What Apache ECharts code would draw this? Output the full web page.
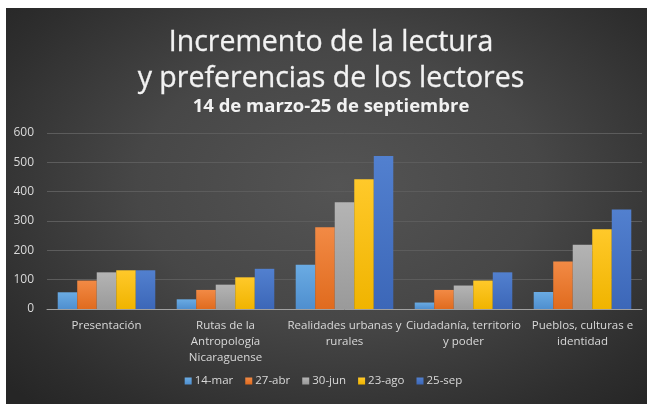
<!DOCTYPE html>
<html>
<head>
<meta charset="utf-8">
<script src="https://cdn.jsdelivr.net/npm/echarts@6/dist/echarts.min.js"></script>
<style>
  html, body { margin: 0; padding: 0; background: #ffffff; }
  #wrap { position: relative; width: 647px; height: 404px; overflow: hidden; }
  #bg { position: absolute; left: 6px; top: 8px; width: 641px; height: 396px;
        background: radial-gradient(ellipse 70% 75% at 52% 45%, #545454 0%, #474747 45%, #2e2e2e 85%, #262626 100%); }
  #chart { position: absolute; left: 0; top: 0; width: 647px; height: 404px; }
</style>
</head>
<body>
<div id="wrap"><div id="bg"></div><div id="chart"></div></div>
<script>
const categories = ["Presentación", "Rutas de la Antropología Nicaraguense", "Realidades urbanas y rurales", "Ciudadanía, territorio y poder", "Pueblos, culturas e identidad"];
const xTickLabels = ["Presentación", "Rutas de la\nAntropología\nNicaraguense", "Realidades urbanas y\nrurales", "Ciudadanía, territorio\ny poder", "Pueblos, culturas e\nidentidad"];
const seriesNames = ["14-mar", "27-abr", "30-jun", "23-ago", "25-sep"];
const v14mar = [57, 33, 151, 22, 58];
const v27abr = [97, 65, 279, 65, 162];
const v30jun = [125, 83, 364, 80, 219];
const v23ago = [132, 108, 442, 97, 272];
const v25sep = [132, 137, 522, 125, 339];
const yTicks = [0, 100, 200, 300, 400, 500, 600];
const titleText = "Incremento de la lectura\ny preferencias de los lectores";
const subtitleText = "14 de marzo-25 de septiembre";

const seriesValues = [v14mar, v27abr, v30jun, v23ago, v25sep];
const colorsTop = ["#6aabe3", "#f28a45", "#b4b4b4", "#ffc92a", "#5280cf"];
const colorsBot = ["#4f8fcf", "#e06b1e", "#9a9a9a", "#f0b400", "#3c67b8"];

const chart = echarts.init(document.getElementById('chart'), null, {renderer: 'canvas'});
const FONT = "'Open Sans', 'Noto Sans', sans-serif";
chart.setOption({
  backgroundColor: 'transparent',
  animation: false,
  title: [
    { text: titleText, left: 326, textAlign: 'center', top: 20,
      textStyle: { color: '#f2f2f2', fontSize: 28.5, fontWeight: 500, fontFamily: FONT, lineHeight: 36,
        textBorderColor: '#f2f2f2', textBorderWidth: 0.3 } },
    { text: subtitleText, left: 326, textAlign: 'center', top: 91,
      textStyle: { color: '#f2f2f2', fontSize: 18.5, fontWeight: 'bold', fontFamily: FONT, lineHeight: 22 } }
  ],
  grid: { left: 47, right: 5, top: 133, bottom: 95, containLabel: false },
  legend: {
    data: seriesNames, bottom: 12, left: 'center',
    icon: 'rect', itemWidth: 7, itemHeight: 7, itemGap: 12,
    textStyle: { color: '#d9d9d9', fontSize: 11.5, fontFamily: FONT, padding: [0, 0, 0, -2] }
  },
  xAxis: {
    type: 'category', data: categories,
    axisLine: { lineStyle: { color: '#a0a0a0', width: 1 } },
    axisTick: { show: false },
    axisLabel: { color: '#d9d9d9', fontSize: 11.5, fontFamily: FONT, lineHeight: 16, margin: 9,
      interval: 0, formatter: (v, i) => xTickLabels[i] }
  },
  yAxis: {
    type: 'value', min: yTicks[0], max: yTicks[yTicks.length - 1], interval: yTicks[1] - yTicks[0],
    axisLine: { show: false }, axisTick: { show: false },
    axisLabel: { color: '#d9d9d9', fontSize: 12, fontFamily: FONT, margin: 13 },
    splitLine: { lineStyle: { color: '#5c5c5c', width: 1 } }
  },
  series: seriesNames.map((name, i) => ({
    name: name, type: 'bar', data: seriesValues[i],
    barGap: '0%', barCategoryGap: '18%',
    itemStyle: {
      color: new echarts.graphic.LinearGradient(0, 0, 0, 1, [
        { offset: 0, color: colorsTop[i] }, { offset: 1, color: colorsBot[i] }
      ])
    }
  })),
  color: colorsBot
});
</script>
</body>
</html>
